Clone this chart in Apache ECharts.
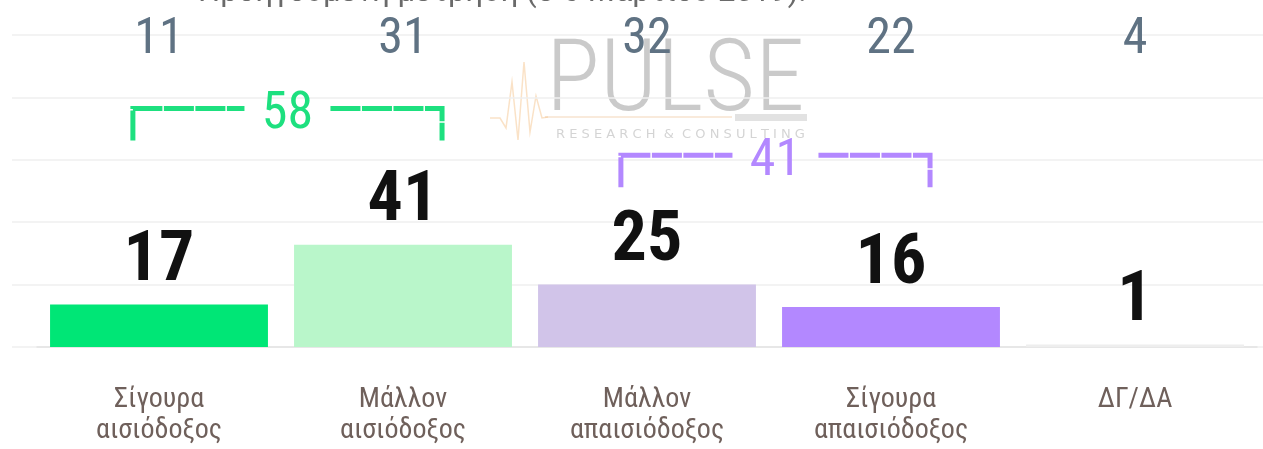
<!DOCTYPE html>
<html>
<head>
<meta charset="utf-8">
<script src="https://cdn.jsdelivr.net/npm/echarts@6/dist/echarts.min.js"></script>
<style>
html,body{margin:0;padding:0;background:#fff;}
#chart{width:1263px;height:449px;}
</style>
</head>
<body>
<div id="chart"></div>
<script>
// ---- data ----
const categories = ['Σίγουρα\nαισιόδοξος', 'Μάλλον\nαισιόδοξος', 'Μάλλον\nαπαισιόδοξος', 'Σίγουρα\nαπαισιόδοξος', 'ΔΓ/ΔΑ'];
const currentValues = [17, 41, 25, 16, 1];
const previousValues = ['11', '31', '32', '22', '4'];
const groupStart = [0, 2];
const groupEnd = [1, 3];
const groupTotals = [58, 41];
const barColors = ['#00e676', '#b9f6ca', '#d1c4e9', '#b388ff', '#eeeeee'];
const groupColors = ['#1de07f', '#b388ff'];
const groupLevels = [95.6, 76.8]; // bracket heights in axis units
const previousTitle = 'Προηγούμενη μέτρηση (5-6 Μαρτίου 2019):';

const narrow = '"Liberation Sans Narrow", "Roboto Condensed", "DejaVu Sans Condensed", Roboto, sans-serif';

const chart = echarts.init(document.getElementById('chart'));

const option = {
  backgroundColor: '#ffffff',
  animation: false,
  grid: [
    { left: 37, right: 6, top: 35, bottom: 102 },
    { left: 12, right: 0, top: 35, bottom: 102 }
  ],
  xAxis: [
    {
      type: 'category', gridIndex: 0, data: categories,
      axisLine: { show: true, lineStyle: { color: '#e4e4e4', width: 1.5 } },
      axisTick: { show: false },
      axisLabel: {
        margin: 37, color: '#6f605b', fontFamily: narrow, fontSize: 28, lineHeight: 31
      }
    },
    {
      type: 'category', gridIndex: 0, position: 'top', data: previousValues,
      axisLine: { show: false }, axisTick: { show: false },
      axisLabel: {
        margin: -5, verticalAlign: 'middle', color: '#5f7283',
        fontFamily: narrow, fontWeight: 'normal', fontSize: 50
      }
    },
    { type: 'value', gridIndex: 1, show: false, min: 0, max: 1 }
  ],
  yAxis: [
    {
      type: 'value', gridIndex: 0, min: 0, max: 125, interval: 25, show: true,
      axisLine: { show: false }, axisTick: { show: false }, axisLabel: { show: false },
      splitLine: { show: false }
    },
    {
      type: 'value', gridIndex: 1, min: 0, max: 125, interval: 25,
      axisLine: { show: false }, axisTick: { show: false }, axisLabel: { show: false },
      splitLine: { show: true, lineStyle: { color: '#efefef', width: 1.5 } }
    }
  ],
  graphic: [
    {
      type: 'text', x: 502, y: -22, z: 1,
      style: { text: previousTitle, fill: '#6a6a6a', font: '31px Roboto, sans-serif', textAlign: 'center' }
    },
    // PULSE watermark
    {
      type: 'text', x: 546, y: 35, z: 0,
      style: { text: 'PULSE', fill: 'rgba(150,150,150,0.5)', font: '300 100px ' + narrow }
    },
    {
      type: 'text', x: 556, y: 128, z: 0,
      style: { text: 'R E S E A R C H  &  C O N S U L T I N G', fill: 'rgba(160,160,160,0.45)', font: '13px "DejaVu Sans", sans-serif' }
    },
    {
      type: 'line', z: 0,
      shape: { x1: 545, y1: 117, x2: 732, y2: 117 },
      style: { stroke: 'rgba(240,200,160,0.5)', lineWidth: 1.5 }
    },
    {
      type: 'rect', z: 0,
      shape: { x: 735, y: 114, width: 72, height: 7 },
      style: { fill: 'rgba(190,190,190,0.45)' }
    },
    {
      type: 'polyline', z: 0,
      shape: { points: [[490, 118], [500, 118], [506, 128], [512, 82], [518, 140], [524, 62], [530, 132], [536, 96], [542, 118], [548, 117]] },
      style: { stroke: 'rgba(245,190,130,0.45)', lineWidth: 1.5, fill: null }
    }
  ],
  series: [
    {
      type: 'bar', xAxisIndex: 0, yAxisIndex: 0, z: 3,
      barCategoryGap: '10.7%',
      data: currentValues.map((v, i) => ({ value: v, itemStyle: { color: barColors[i] } })),
      label: {
        show: true, position: 'top', distance: 7,
        color: '#111', fontFamily: narrow, fontWeight: 'bold', fontSize: 70, lineHeight: 70
      }
    },
    {
      type: 'custom', xAxisIndex: 0, yAxisIndex: 0, z: 4,
      data: groupTotals.map((t, i) => [groupStart[i], groupEnd[i], t, groupLevels[i], i]),
      renderItem: function (params, api) {
        const s = api.value(0), e = api.value(1), total = api.value(2), lvl = api.value(3), idx = api.value(4);
        const bw = api.size([1, 0])[0];
        const pS = api.coord([s, lvl]);
        const pE = api.coord([e, lvl]);
        const x1 = pS[0] - bw * 0.107;
        const x2 = pE[0] + bw * 0.16;
        const yTop = pS[1];
        const yBot = yTop + 32;
        const mid = (x1 + x2) / 2;
        const gap = 43;
        const color = groupColors[idx];
        const st = { stroke: color, lineWidth: 5, fill: null, lineDash: [30, 1.5] };
        return {
          type: 'group',
          children: [
            { type: 'polyline', shape: { points: [[x1, yBot], [x1, yTop], [mid - gap, yTop]] }, style: st },
            { type: 'polyline', shape: { points: [[mid + gap, yTop], [x2, yTop], [x2, yBot]] }, style: st },
            {
              type: 'text', x: mid, y: yTop + 7,
              style: { text: String(total), fill: color, font: '52px ' + narrow, textAlign: 'center', textVerticalAlign: 'middle' }
            }
          ]
        };
      }
    },
    {
      type: 'line', xAxisIndex: 2, yAxisIndex: 1, data: [], silent: true
    }
  ]
};
chart.setOption(option);
</script>
</body>
</html>
